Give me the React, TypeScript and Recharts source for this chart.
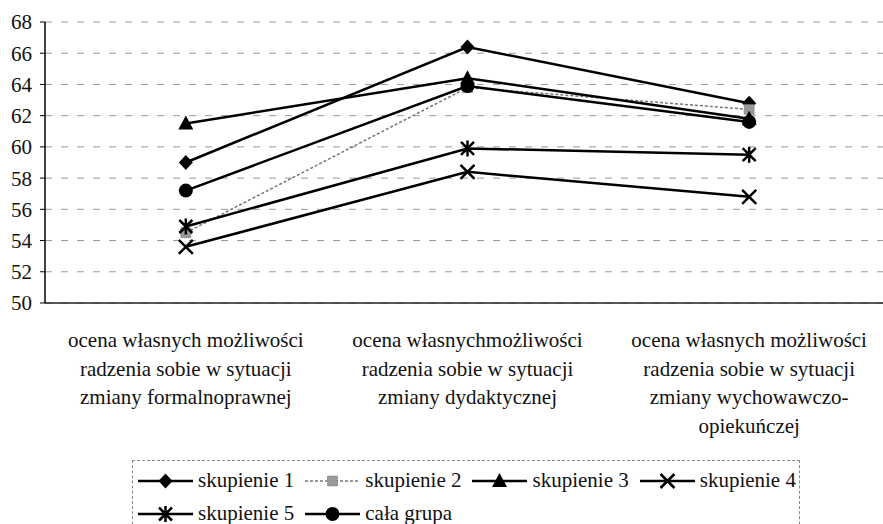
import { LineChart, Line, XAxis, YAxis, CartesianGrid } from "recharts";

const categories = [
  "ocena własnych możliwości\nradzenia sobie w sytuacji\nzmiany formalnoprawnej",
  "ocena własnychmożliwości\nradzenia sobie w sytuacji\nzmiany dydaktycznej",
  "ocena własnych możliwości\nradzenia sobie w sytuacji\nzmiany wychowawczo-\nopiekuńczej",
];
const skupienie1 = [59.0, 66.4, 62.8];
const skupienie2 = [54.5, 63.8, 62.4];
const skupienie3 = [61.5, 64.4, 61.8];
const skupienie4 = [53.6, 58.4, 56.8];
const skupienie5 = [54.9, 59.9, 59.5];
const calaGrupa = [57.2, 63.9, 61.6];
const yTicks = [50, 52, 54, 56, 58, 60, 62, 64, 66, 68];

const data = categories.map((name, i) => ({
  name,
  s1: skupienie1[i],
  s2: skupienie2[i],
  s3: skupienie3[i],
  s4: skupienie4[i],
  s5: skupienie5[i],
  all: calaGrupa[i],
}));

const FONT = "'Liberation Serif', 'Times New Roman', serif";

type Shape = "diamond" | "square" | "triangle" | "x" | "star" | "circle";

function Marker({ shape, cx, cy }: { shape: Shape; cx: number; cy: number }) {
  switch (shape) {
    case "diamond":
      return <path d={`M${cx},${cy - 7.5}L${cx + 7},${cy}L${cx},${cy + 7.5}L${cx - 7},${cy}Z`} fill="#000" />;
    case "square":
      return <rect x={cx - 5} y={cy - 5} width={10} height={10} fill="#9a9a9a" stroke="#777" strokeWidth={1} strokeDasharray="1 1" />;
    case "triangle":
      return <path d={`M${cx},${cy - 8}L${cx + 7.5},${cy + 6}L${cx - 7.5},${cy + 6}Z`} fill="#000" />;
    case "x":
      return (
        <path d={`M${cx - 7},${cy - 7}L${cx + 7},${cy + 7}M${cx + 7},${cy - 7}L${cx - 7},${cy + 7}`} stroke="#000" strokeWidth={2.5} />
      );
    case "star":
      return (
        <path
          d={`M${cx - 6.5},${cy - 6.5}L${cx + 6.5},${cy + 6.5}M${cx + 6.5},${cy - 6.5}L${cx - 6.5},${cy + 6.5}M${cx},${cy - 8}L${cx},${cy + 8}`}
          stroke="#000"
          strokeWidth={2.5}
        />
      );
    default:
      return <circle cx={cx} cy={cy} r={7} fill="#000" />;
  }
}

const dotFor = (shape: Shape) => (props: any) => {
  const { cx, cy, index } = props;
  if (cx == null || cy == null) return <g key={index} />;
  return (
    <g key={`${shape}-${index}`}>
      <Marker shape={shape} cx={cx} cy={cy} />
    </g>
  );
};

const series: { key: string; label: string; shape: Shape; dashed?: boolean }[] = [
  { key: "s1", label: "skupienie 1", shape: "diamond" },
  { key: "s2", label: "skupienie 2", shape: "square", dashed: true },
  { key: "s3", label: "skupienie 3", shape: "triangle" },
  { key: "s4", label: "skupienie 4", shape: "x" },
  { key: "s5", label: "skupienie 5", shape: "star" },
  { key: "all", label: "cała grupa", shape: "circle" },
];

function CategoryTick(props: any) {
  const { x, y, payload } = props;
  const lines = String(payload.value).split("\n");
  return (
    <text x={x} y={y} textAnchor="middle" fontFamily={FONT} fontSize={21} fill="#111">
      {lines.map((ln, i) => (
        <tspan key={i} x={x} dy={i === 0 ? 44 : 28.5}>
          {ln}
        </tspan>
      ))}
    </text>
  );
}

function LegendBox() {
  return (
    <div
      style={{
        position: "absolute",
        left: 132,
        top: 460,
        width: 668,
        height: 90,
        border: "1px dashed #888",
        boxSizing: "border-box",
        paddingLeft: 5,
        paddingTop: 3,
        display: "flex",
        flexWrap: "wrap",
        alignContent: "flex-start",
        columnGap: 11,
        fontFamily: FONT,
        fontSize: 21,
        color: "#111",
      }}
    >
      {series.map(s => (
        <div key={s.key} style={{ display: "flex", alignItems: "center", height: 33 }}>
          <svg width={55} height={20} style={{ marginRight: 5 }}>
            <line
              x1={0}
              x2={55}
              y1={10}
              y2={10}
              stroke={s.dashed ? "#777" : "#000"}
              strokeWidth={s.dashed ? 1.5 : 2.5}
              strokeDasharray={s.dashed ? "3 2" : undefined}
            />
            <Marker shape={s.shape} cx={27.5} cy={10} />
          </svg>
          <span style={{ whiteSpace: "nowrap" }}>{s.label}</span>
        </div>
      ))}
    </div>
  );
}

export default function App() {
  return (
    <div style={{ position: "absolute", left: 0, top: 0, width: 883, height: 524, overflow: "hidden", background: "#fff" }}>
      <LineChart width={900} height={524} data={data} margin={{ top: 22, right: 10, bottom: 0, left: 0 }}>
        <CartesianGrid vertical={false} stroke="#999" strokeDasharray="7 9" />
        <XAxis
          dataKey="name"
          scale="band"
          interval={0}
          height={221}
          tickSize={0}
          tickMargin={0}
          axisLine={{ stroke: "#222", strokeWidth: 1.5 }}
          tick={<CategoryTick />}
        />
        <YAxis
          domain={[50, 68]}
          ticks={yTicks}
          width={45}
          tickSize={5}
          tickMargin={8}
          axisLine={{ stroke: "#000", strokeWidth: 1.5 }}
          tickLine={{ stroke: "#000" }}
          tick={{ fontFamily: FONT, fontSize: 21, fill: "#111" }}
        />
        {series.map(s => (
          <Line
            key={s.key}
            dataKey={s.key}
            type="linear"
            stroke={s.dashed ? "#777" : "#000"}
            strokeWidth={s.dashed ? 1.5 : 2.5}
            strokeDasharray={s.dashed ? "3 2" : undefined}
            dot={dotFor(s.shape)}
            activeDot={false}
            isAnimationActive={false}
          />
        ))}
      </LineChart>
      <LegendBox />
    </div>
  );
}
